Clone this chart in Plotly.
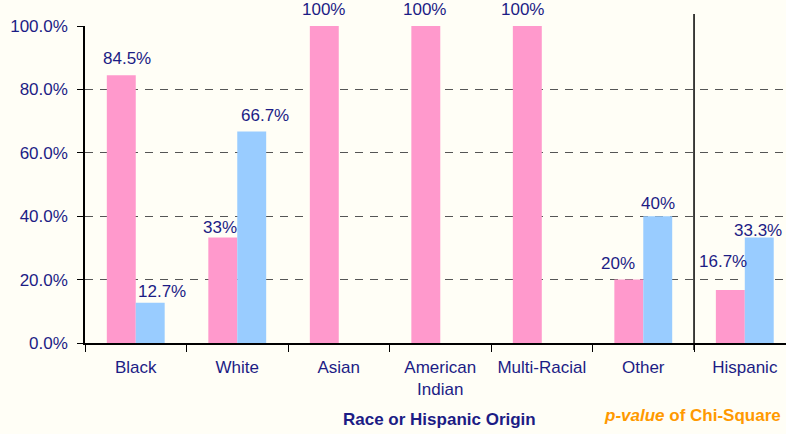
import plotly.graph_objects as go

categories = ["Black", "White", "Asian", "American<br>Indian", "Multi-Racial", "Other", "Hispanic"]
pink_values = [84.5, 33.3, 100, 100, 100, 20, 16.7]
pink_labels = ["84.5%", "33%", "100%", "100%", "100%", "20%", "16.7%"]
blue_values = [12.7, 66.7, None, None, None, 40, 33.3]
blue_labels = ["12.7%", "66.7%", "", "", "", "40%", "33.3%"]
y_ticks = [0, 20, 40, 60, 80, 100]

# label placement tweaks (pixels): horizontal shift and height of label centre above bar top
pink_label_dx = [6, -3, -1, -1, -5, -11, -7]
pink_label_dy = [17, 10, 17, 17, 17, 16, 29]
blue_label_dx = [12, 13, 0, 0, 0, 0, -1.5]
blue_label_dy = [11, 16, 0, 0, 0, 13, 7]

navy = "#1C1C85"
font_family = "Arial, Liberation Sans, sans-serif"
bg = "#FFFEF6"
FS = 17
BAR_HALF = 14.5  # half bar width in px, used for label offsets

fig = go.Figure()
fig.add_trace(go.Bar(
    x=categories, y=pink_values,
    marker=dict(color="#FF99CC", line=dict(width=0)),
    showlegend=False, hoverinfo="skip"))
fig.add_trace(go.Bar(
    x=categories, y=blue_values,
    marker=dict(color="#99CCFF", line=dict(width=0)),
    showlegend=False, hoverinfo="skip"))

for cat, v, lab, dx, dy in zip(categories, pink_values, pink_labels, pink_label_dx, pink_label_dy):
    if v is None or not lab:
        continue
    fig.add_annotation(x=cat, y=v, xref="x", yref="y", text=lab, showarrow=False,
                       xshift=-BAR_HALF + dx, yshift=dy, yanchor="middle",
                       font=dict(size=FS, color=navy, family=font_family))
for cat, v, lab, dx, dy in zip(categories, blue_values, blue_labels, blue_label_dx, blue_label_dy):
    if v is None or not lab:
        continue
    fig.add_annotation(x=cat, y=v, xref="x", yref="y", text=lab, showarrow=False,
                       xshift=BAR_HALF + dx, yshift=dy, yanchor="middle",
                       font=dict(size=FS, color=navy, family=font_family))

fig.update_layout(
    width=786, height=434,
    margin=dict(l=85, r=0, t=26, b=91),
    paper_bgcolor=bg, plot_bgcolor=bg,
    barmode="group", bargap=0.43, bargroupgap=0,
    font=dict(family=font_family, color=navy, size=FS),
)
fig.update_xaxes(
    type="category", range=[-0.5, 6.406],
    showline=True, linecolor="black", linewidth=1.5,
    ticks="outside", tickson="boundaries", ticklen=7, tickcolor="black",
    tickfont=dict(size=FS, color=navy, family=font_family),
    ticklabelstandoff=8,
    showgrid=False, zeroline=False,
)
fig.update_yaxes(
    range=[0, 100], tickvals=y_ticks,
    ticktext=[f"{v:.1f}%" for v in y_ticks],
    showline=True, linecolor="black", linewidth=1.5,
    ticks="outside", ticklen=6, tickcolor="black",
    tickfont=dict(size=FS, color=navy, family=font_family),
    ticklabelstandoff=6,
    showgrid=True, gridcolor="#555555", griddash="8px,7px", gridwidth=1,
    zeroline=False,
)

# separator between race groups and Hispanic origin
fig.add_shape(type="line", xref="x", yref="paper", x0=5.5, x1=5.5, y0=-0.022, y1=1.038,
              line=dict(color="black", width=1.5))

fig.add_annotation(text="<b>Race or Hispanic Origin</b>", xref="paper", yref="paper",
                   x=(439 - 85) / 701, y=-(419 - 343) / 317, yanchor="middle", showarrow=False,
                   font=dict(size=FS, color=navy, family=font_family))
fig.add_annotation(text="<b><i>p-value</i> of Chi-Square</b>", xref="paper", yref="paper",
                   x=(783 - 85) / 701, xanchor="right", y=-(415 - 343) / 317, yanchor="middle",
                   showarrow=False,
                   font=dict(size=FS, color="#FF9900", family=font_family))

fig.write_html("out.html", config={"displayModeBar": False},
               post_script="document.body.style.margin='0';document.body.style.overflow='hidden';")
